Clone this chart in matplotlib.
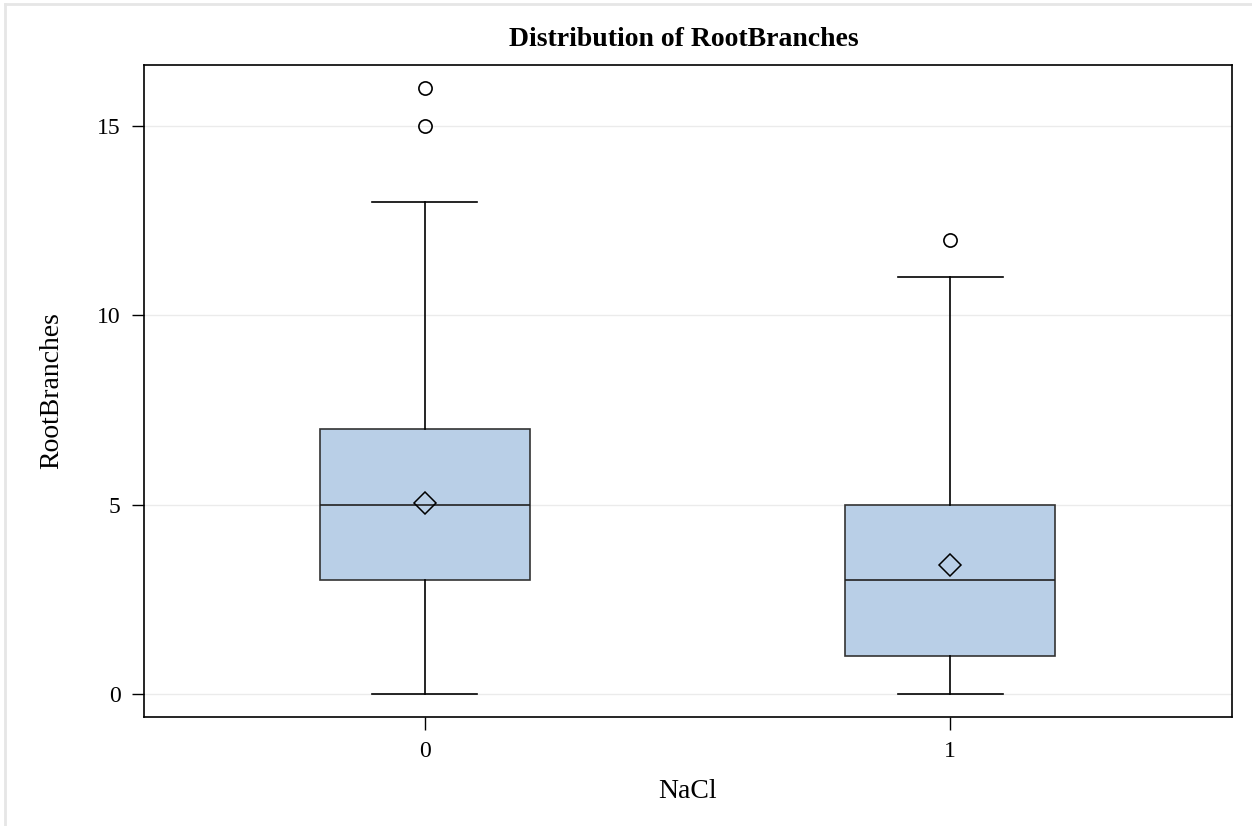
import numpy as np
import matplotlib.pyplot as plt
from matplotlib.lines import Line2D

groups = ["0", "1"]
whislo = [0, 0]
q1 = [3, 1]
med = [5, 3]
q3 = [7, 5]
whishi = [13, 11]
means = [5.05, 3.4]
fliers = [[15, 16], [12]]

plt.rcParams['font.family'] = ['Liberation Serif', 'DejaVu Serif']

fig = plt.figure(figsize=(12.52, 8.26), dpi=100)
ax = fig.add_axes([144/1252, 1-717/826, (1232-144)/1252, (717-65)/826])

stats = []
for i in range(len(groups)):
    stats.append(dict(label=groups[i], whislo=whislo[i], q1=q1[i], med=med[i],
                      q3=q3[i], whishi=whishi[i], mean=means[i], fliers=fliers[i]))

ax.bxp(stats, positions=[0, 1], widths=0.4, patch_artist=True, showmeans=True,
       boxprops=dict(facecolor='#B9CFE7', edgecolor='#333333', linewidth=1.2),
       medianprops=dict(color='#222222', linewidth=1.2),
       whiskerprops=dict(color='black', linewidth=1.2),
       capprops=dict(color='black', linewidth=1.2),
       capwidths=0.2,
       meanprops=dict(marker='D', markerfacecolor='none', markeredgecolor='black',
                      markersize=11, markeredgewidth=1.1),
       flierprops=dict(marker='o', markerfacecolor='none', markeredgecolor='black',
                       markersize=9.5, markeredgewidth=1.2))

ax.set_xlim(-0.535, 1.537)
ax.set_ylim(-0.607, 16.61)
ax.set_yticks([0, 5, 10, 15])
ax.set_xticks([0, 1])
ax.set_xticklabels(groups)
ax.yaxis.grid(True, color='#ebebeb', linewidth=1)
ax.set_axisbelow(True)
ax.tick_params(axis='both', direction='out', length=9, width=1, labelsize=17, pad=8)
for s in ax.spines.values():
    s.set_linewidth(1.2)

ax.set_xlabel("NaCl", fontsize=20)
ax.set_ylabel("RootBranches", fontsize=20)
ax.xaxis.set_label_coords(0.5, (717-792)/652)
ax.xaxis.label.set_va('center')
ax.yaxis.set_label_coords((52-144)/1088, 0.5)
ax.yaxis.label.set_va('center')

fig.text(684/1252, 1-39/826, "Distribution of RootBranches", fontsize=20,
         fontweight='bold', ha='center', va='center')

# light frame around the whole picture (top and left edges visible)
fig.add_artist(Line2D([5/1252, 5/1252], [0, 1-4/826], transform=fig.transFigure,
                      color='#e6e6e6', linewidth=2))
fig.add_artist(Line2D([5/1252, 1], [1-4/826, 1-4/826], transform=fig.transFigure,
                      color='#e6e6e6', linewidth=2))

fig.savefig("out.png", dpi=100)
